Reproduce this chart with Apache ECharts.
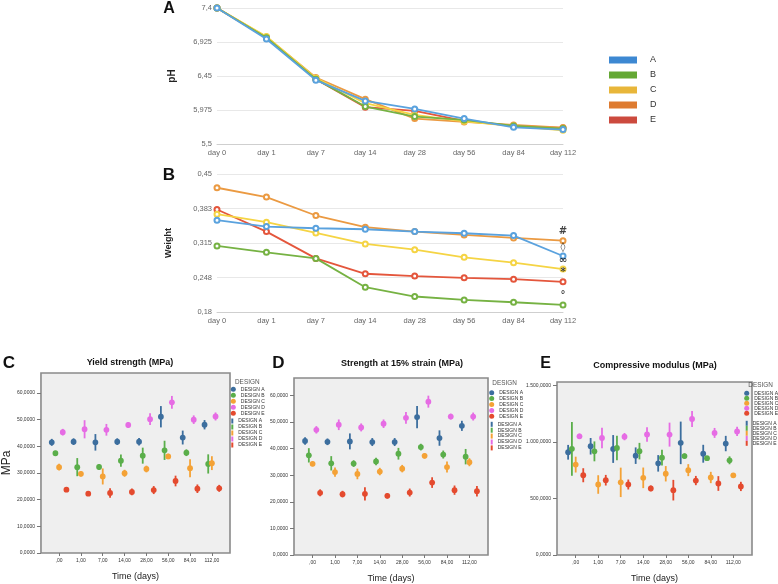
<!DOCTYPE html>
<html><head><meta charset="utf-8">
<script src="https://cdn.jsdelivr.net/npm/echarts/dist/echarts.min.js"></script>
<style>html,body{margin:0;padding:0;background:#fff}#c{width:778px;height:584px}</style>
</head><body><div id="c"></div>
<script>
// ---------- data ----------
const days = ['day 0','day 1','day 7','day 14','day 28','day 56','day 84','day 112'];
const groups = ['A','B','C','D','E'];

const phA = [7.40, 6.966, 6.392, 6.102, 5.990, 5.855, 5.733, 5.701];
const phB = [7.40, 6.985, 6.406, 6.023, 5.883, 5.836, 5.752, 5.715];
const phC = [7.40, 7.003, 6.420, 6.070, 5.906, 5.817, 5.750, 5.692];
const phD = [7.40, 6.994, 6.429, 6.126, 5.855, 5.808, 5.766, 5.729];
const phE = [7.40, 6.985, 6.406, 6.014, 5.962, 5.822, 5.752, 5.724];

const wA = [0.3596, 0.3472, 0.3439, 0.3419, 0.3373, 0.3341, 0.3295, 0.2895];
const wB = [0.3092, 0.2967, 0.2849, 0.2286, 0.2103, 0.2037, 0.1991, 0.1939];
const wC = [0.3714, 0.3557, 0.3347, 0.3131, 0.3020, 0.2869, 0.2764, 0.2640];
const wD = [0.4231, 0.4048, 0.3688, 0.3459, 0.3373, 0.3308, 0.3249, 0.3196];
const wE = [0.3806, 0.3373, 0.2849, 0.2548, 0.2502, 0.2469, 0.2443, 0.2391];
const weightMarks = ['\u25CA', '\u00B0', '\u221E', '#', '*'];   // A, B, C, D, E

const timeLabels = [',00','1,00','7,00','14,00','28,00','56,00','84,00','112,00'];
const designs = ['DESIGN A','DESIGN B','DESIGN C','DESIGN D','DESIGN E'];
const strengthTicks = [0, 10, 20, 30, 40, 50, 60];
const modulusTicks = [0, 500, 1000, 1500];

// Yield strength (MPa): mean and error half-width
const yieldA = [41.5, 41.75, 41.5, 41.75, 41.75, 51.1, 43.3, 48.1];
const yieldAErr = [1.3, 1.25, 3.1, 1.25, 1.4, 4.0, 2.6, 1.75];
const yieldB = [37.4, 32.2, 32.25, 34.6, 36.5, 38.5, 37.6, 33.4];
const yieldBErr = [0.9, 3.4, 1.0, 2.3, 3.0, 3.6, 1.25, 3.6];
const yieldC = [32.2, 29.7, 28.7, 29.9, 31.5, 36.2, 31.8, 33.7];
const yieldCErr = [1.25, 1.0, 3.0, 1.3, 1.25, 1.0, 3.4, 2.6];
const yieldD = [45.3, 46.4, 46.2, 48.0, 50.2, 56.5, 50.0, 51.2];
const yieldDErr = [1.25, 3.4, 2.2, 1.1, 2.2, 2.4, 1.6, 1.5];
const yieldE = [23.75, 22.25, 22.5, 22.9, 23.6, 27.0, 24.1, 24.25];
const yieldEErr = [0.9, 0.75, 1.75, 1.25, 1.5, 2.0, 1.6, 1.3];

// Strength at 15% strain (MPa)
const s15A = [42.9, 42.6, 42.75, 42.5, 42.5, 51.9, 44.0, 48.6];
const s15AErr = [1.4, 1.25, 3.0, 1.5, 1.5, 4.2, 2.9, 1.9];
const s15B = [37.5, 34.5, 34.4, 35.2, 38.1, 40.6, 37.8, 37.0];
const s15BErr = [2.7, 2.7, 1.25, 1.4, 2.2, 1.25, 1.5, 2.9];
const s15C = [34.3, 31.2, 30.5, 31.4, 32.5, 37.3, 33.1, 34.9];
const s15CErr = [0.9, 1.75, 2.0, 1.4, 1.4, 1.0, 2.1, 1.5];
const s15D = [47.1, 49.0, 48.0, 49.4, 51.6, 57.7, 52.1, 52.1];
const s15DErr = [1.4, 2.0, 1.5, 1.6, 2.25, 2.25, 1.1, 1.5];
const s15E = [23.4, 22.9, 23.0, 22.25, 23.5, 27.25, 24.4, 24.0];
const s15EErr = [1.3, 1.25, 2.5, 1.0, 1.5, 2.0, 1.75, 2.0];

// Compressive modulus (MPa)
const modA = [908, 961, 937, 878, 810, 991, 895, 985];
const modAErr = [65, 73, 123, 73, 73, 188, 79, 68];
const modB = [938, 916, 946, 918, 860, 874, 856, 837];
const modBErr = [238, 88, 109, 73, 70, 24, 18, 35];
const modC = [799, 623, 642, 682, 718, 750, 685, 704];
const modCErr = [70, 82, 130, 91, 68, 53, 50, 8];
const modD = [1049, 1034, 1046, 1065, 1064, 1202, 1079, 1092];
const modDErr = [24, 91, 32, 65, 106, 70, 44, 41];
const modE = [705, 661, 623, 588, 573, 658, 632, 606];
const modEErr = [62, 47, 44, 26, 91, 41, 65, 41];

// ---------- styling ----------
const FONT = 'Liberation Sans, Arial, Helvetica, sans-serif';
const lineColors = ['#5aa2de', '#76b243', '#f5d444', '#eb9a42', '#e4563c'];
const legendSwatch = ['#3d88d2', '#64a834', '#e8b63a', '#de7b30', '#cc4a3e'];
const spssColors = ['#3c6e9e', '#5aae4a', '#f4a236', '#e66ce4', '#e44a2e'];

const phSets = [phA, phB, phC, phD, phE];
const wSets = [wA, wB, wC, wD, wE];
const yieldSets = [[yieldA, yieldAErr], [yieldB, yieldBErr], [yieldC, yieldCErr], [yieldD, yieldDErr], [yieldE, yieldEErr]];
const s15Sets = [[s15A, s15AErr], [s15B, s15BErr], [s15C, s15CErr], [s15D, s15DErr], [s15E, s15EErr]];
const modSets = [[modA, modAErr], [modB, modBErr], [modC, modCErr], [modD, modDErr], [modE, modEErr]];

function commaFmt(v, dec) {
  const s = (+v).toFixed(dec);
  let [i, d] = s.split('.');
  i = i.replace(/\B(?=(\d{3})+(?!\d))/g, '.');
  return d === undefined ? i : i + ',' + d;
}
function shortFmt(v) { return String(Math.round(+v * 1000 + 1e-6) / 1000).replace('.', ','); }

const series = [];
// Panel A & B lines
groups.forEach((g, k) => {
  series.push({
    type: 'line', name: g, xAxisIndex: 0, yAxisIndex: 0, data: phSets[k],
    color: lineColors[k], lineStyle: {width: 1.8}, symbol: 'emptyCircle', symbolSize: 5,
    itemStyle: {borderWidth: 1.3}, z: 10 - k
  });
  series.push({
    type: 'line', name: g, xAxisIndex: 1, yAxisIndex: 1, data: wSets[k],
    color: lineColors[k], lineStyle: {width: 1.8}, symbol: 'emptyCircle', symbolSize: 5,
    itemStyle: {borderWidth: 1.3}, z: 10 - k
  });
});
// significance marks above the last weight points
series.push({
  type: 'scatter', name: 'marks', xAxisIndex: 1, yAxisIndex: 1, symbolSize: 0, z: 30, silent: true,
  data: groups.map((g, k) => ({value: [days.length - 1, wSets[k][days.length - 1]]})),
  label: {show: true, position: 'top', distance: 4, fontSize: 10, fontWeight: 'bold', color: '#111',
    fontFamily: 'DejaVu Sans, sans-serif', formatter: p => weightMarks[p.dataIndex]}
});

// Panels C, D, E error bars
function errSeries(di, axis, means, errs) {
  const color = spssColors[di];
  return {
    type: 'custom', name: designs[di], xAxisIndex: axis, yAxisIndex: axis,
    itemStyle: {color: color}, color: color,
    encode: {x: 0, y: 1},
    data: means.map((m, i) => [i, m, errs[i]]),
    renderItem: function (params, api) {
      const x = api.value(0) + (di - 2) * 0.168;
      const m = api.value(1), e = api.value(2);
      const c = api.coord([x, m]), t = api.coord([x, m + e]), b = api.coord([x, m - e]);
      return {type: 'group', children: [
        {type: 'line', shape: {x1: c[0], y1: t[1], x2: c[0], y2: b[1]}, style: {stroke: color, lineWidth: 1.8}},
        {type: 'circle', shape: {cx: c[0], cy: c[1], r: 2.9}, style: {fill: color}}
      ]};
    }
  };
}
yieldSets.forEach((s, di) => series.push(errSeries(di, 2, s[0], s[1])));
s15Sets.forEach((s, di) => series.push(errSeries(di, 3, s[0], s[1])));
modSets.forEach((s, di) => series.push(errSeries(di, 4, s[0], s[1])));

const panelGrid = {show: true, backgroundColor: '#efefef', borderColor: '#8a8a8a', borderWidth: 1.6};
const grids = [
  {left: 217, top: 8, width: 346, height: 136},
  {left: 217, top: 174, width: 346, height: 138},
  Object.assign({left: 35, top: 373, width: 195, height: 180}, panelGrid),
  Object.assign({left: 294, top: 378, width: 194, height: 178}, panelGrid),
  Object.assign({left: 557, top: 382, width: 195, height: 174}, panelGrid)
];

function lineX(gi) {
  return {type: 'category', gridIndex: gi, data: days, boundaryGap: false,
    axisLine: {lineStyle: {color: '#cfcfcf'}}, axisTick: {show: false},
    axisLabel: {fontSize: 7.5, color: '#666', margin: 5}};
}
const catIdx = timeLabels.map((_, i) => i);
function spssX(gi) {
  return {type: 'value', gridIndex: gi, min: -0.83, max: 7.83, position: 'bottom',
    axisLine: {show: false, onZero: false}, splitLine: {show: false},
    axisTick: {show: true, customValues: catIdx, length: 3, lineStyle: {color: '#777'}},
    axisLabel: {customValues: catIdx, formatter: v => timeLabels[Math.round(v)], fontSize: 5, color: '#333', margin: 5},
    name: 'Time (days)', nameLocation: 'middle', nameGap: 19,
    nameTextStyle: {fontSize: 9, color: '#222'}};
}
function spssY(gi, max, ticks, name) {
  return {type: 'value', gridIndex: gi, min: 0, max: max, position: 'left',
    axisLine: {show: false, onZero: false}, splitLine: {show: false},
    axisTick: {show: true, customValues: ticks, length: 4, lineStyle: {color: '#777'}},
    axisLabel: {customValues: ticks, formatter: v => commaFmt(v, 4), fontSize: 5, color: '#333', margin: 6},
    name: name || '', nameLocation: 'middle', nameGap: 19,
    nameTextStyle: {fontSize: 12, color: '#222'}};
}

const legendText = {fontSize: 5, lineHeight: 5, color: '#333'};
function designLegend(left, top, icon, w, gap) {
  return {orient: 'vertical', left: left, top: top, padding: 0, icon: icon, itemWidth: w, itemHeight: 5, itemGap: gap,
    textStyle: legendText, data: designs, selectedMode: false};
}

const texts = [
  {t: 'A', x: 169, y: 9, s: 16, w: 'bold'},
  {t: 'B', x: 169, y: 175.5, s: 17, w: 'bold'},
  {t: 'C', x: 9, y: 363, s: 17, w: 'bold'},
  {t: 'D', x: 278.5, y: 363, s: 17, w: 'bold'},
  {t: 'E', x: 545.5, y: 363.5, s: 16, w: 'bold'},
  {t: 'Yield strength (MPa)', x: 130, y: 363, s: 9, w: 'bold'},
  {t: 'Strength at 15% strain (MPa)', x: 402, y: 363.3, s: 9, w: 'bold'},
  {t: 'Compressive modulus (MPa)', x: 655, y: 366, s: 9, w: 'bold'}
];
const graphics = texts.map(o => ({type: 'text', x: o.x, y: o.y,
  style: {text: o.t, font: o.w + ' ' + o.s + 'px ' + FONT, fill: '#111', textAlign: 'center', textVerticalAlign: 'middle'}}));
[[235, 382], [492.3, 383.5], [748.3, 385.2]].forEach(p => graphics.push({type: 'text', x: p[0], y: p[1],
  style: {text: 'DESIGN', font: '6.4px ' + FONT, fill: '#555', textAlign: 'left', textVerticalAlign: 'middle'}}));

const option = {
  animation: false,
  textStyle: {fontFamily: FONT},
  grid: grids,
  xAxis: [lineX(0), lineX(1), spssX(2), spssX(3), spssX(4)],
  yAxis: [
    {type: 'value', gridIndex: 0, min: 5.5, max: 7.4, interval: 0.475,
      axisLabel: {formatter: shortFmt, fontSize: 7.5, color: '#666', margin: 5},
      splitLine: {lineStyle: {color: '#e8e8e8'}}, axisLine: {show: false}, axisTick: {show: false},
      name: 'pH', nameLocation: 'middle', nameGap: 40, nameTextStyle: {fontSize: 10, fontWeight: 'bold', color: '#222'}},
    {type: 'value', gridIndex: 1, min: 0.18, max: 0.45, interval: 0.0675,
      axisLabel: {formatter: shortFmt, fontSize: 7.5, color: '#666', margin: 5},
      splitLine: {lineStyle: {color: '#e8e8e8'}}, axisLine: {show: false}, axisTick: {show: false},
      name: 'Weight', nameLocation: 'middle', nameGap: 44, nameTextStyle: {fontSize: 9, fontWeight: 'bold', color: '#222'}},
    spssY(2, 67.5, strengthTicks, 'MPa'),
    spssY(3, 66.6, strengthTicks),
    spssY(4, 1529, modulusTicks)
  ],
  legend: [
    {orient: 'vertical', left: 609, top: 55.5, padding: 0, icon: 'rect', itemWidth: 28, itemHeight: 7, itemGap: 6,
      selectedMode: false,
      textStyle: {fontSize: 9, lineHeight: 7, color: '#333', padding: [0, 0, 0, 8]},
      data: groups.map((g, k) => ({name: g, itemStyle: {color: legendSwatch[k]}}))},
    designLegend(230.8, 386.8, 'circle', 5, 1),
    designLegend(231.3, 418.5, 'rect', 2, 1),
    designLegend(489.2, 390.2, 'circle', 5, 0.9),
    designLegend(490.7, 421.8, 'rect', 2, 0.9),
    designLegend(744.2, 390.8, 'circle', 5, 0),
    designLegend(745.7, 420.8, 'rect', 2, 0)
  ],
  graphic: graphics,
  series: series
};
const chart = echarts.init(document.getElementById('c'), null, {renderer: 'canvas'});
chart.setOption(option);
</script>
</body></html>
